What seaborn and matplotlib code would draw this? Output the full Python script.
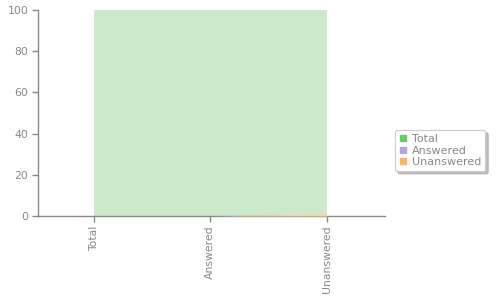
import matplotlib
matplotlib.use("Agg")
import matplotlib.pyplot as plt
import seaborn as sns
import numpy as np
from matplotlib.lines import Line2D

categories = ["Total", "Answered", "Unanswered"]
total = [100, 100, 100]
answered = [0, 0, 0]
unanswered = [0, 0, 1]

sns.set_theme(style="white")
plt.rcParams['font.family'] = ['DejaVu Sans']

fig = plt.figure(figsize=(5, 3), dpi=100)
ax = fig.add_axes([38/500, 1-216/300, (385-38)/500, (216-10)/300])

x = np.arange(len(categories))
gray = "#888888"
ax.fill_between(x, 0, total, color="#cce9cc", lw=0, zorder=1)
sns.lineplot(x=x, y=total, ax=ax, color="#cce9cc", lw=0, zorder=1)
ax.fill_between(x, 0, answered, color="#d6cfe9", lw=0, zorder=2)
ax.fill_between(x, 0, unanswered, color="#ffcc99", lw=0, zorder=3)

ax.set_xlim(-0.48, 2.5)
ax.set_ylim(0, 100)
ax.set_yticks([0, 20, 40, 60, 80, 100])
ax.set_xticks(x)
ax.set_xticklabels(categories, rotation=90)
sns.despine(ax=ax)
for s in ["left", "bottom"]:
    ax.spines[s].set_color(gray)
    ax.spines[s].set_linewidth(1)
ax.tick_params(axis="both", colors=gray, labelcolor="#888888", labelsize=7.8,
               direction="out", length=4, width=1, left=True, bottom=True, pad=3)

handles = [Line2D([], [], marker="s", ls="", color=c, markersize=4)
           for c in ["#66cc66", "#b3a6d6", "#ffb366"]]
leg = fig.legend(handles, ["Total", "Answered", "Unanswered"], loc="upper left",
                 bbox_to_anchor=(395/500, 1-130/300), borderaxespad=0,
                 frameon=True, fancybox=True,
                 shadow={"ox": 2, "oy": -2, "color": "#999999", "alpha": 0.6},
                 fontsize=8, handletextpad=0.4, borderpad=0.35,
                 labelspacing=0.15, handlelength=0.8)
for t in leg.get_texts():
    t.set_color("#888888")
leg.get_frame().set_edgecolor("#cccccc")
leg.get_frame().set_linewidth(0.8)

fig.savefig("out.png", dpi=100)
